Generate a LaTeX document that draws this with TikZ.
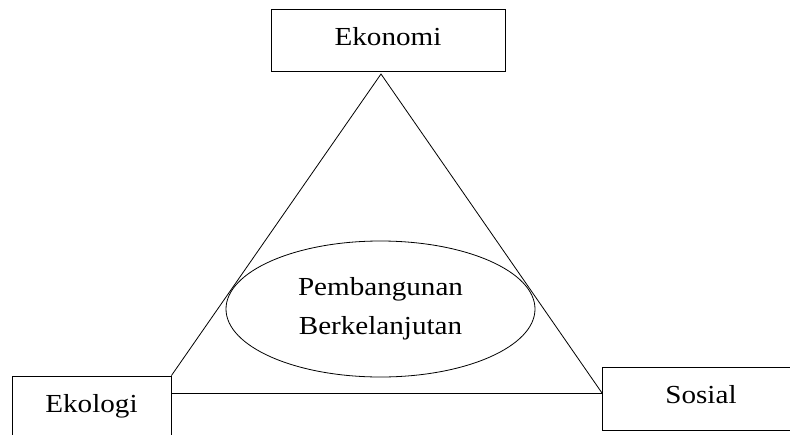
\documentclass[tikz,border=0pt]{standalone}
\usepackage{fontspec}
\setmainfont{Liberation Serif}[FakeStretch=1.12]
\usetikzlibrary{shapes.geometric}
\begin{document}
\begin{tikzpicture}[x=1pt,y=-1pt,
  box/.style={draw=black,line width=0.8pt,rectangle,inner sep=0pt,
    font=\fontsize{26}{30}\selectfont,text height=18pt},
  oval/.style={draw=black,line width=0.8pt,ellipse,inner sep=0pt,
    minimum width=309pt,minimum height=136pt,align=center,
    font=\fontsize{26}{39}\selectfont},
  edge/.style={draw=black,line width=0.8pt}]
\useasboundingbox (0,0) rectangle (790,434);
\clip (0,0) rectangle (790,434);
\node[box,minimum width=234pt,minimum height=62pt,text depth=8pt] (ekonomi) at (388,40) {Ekonomi};
\node[box,minimum width=159pt,minimum height=60pt,text depth=6pt] (ekologi) at (91.5,406) {Ekologi};
\node[box,minimum width=198pt,minimum height=63pt,text depth=9pt] (sosial) at (701,398.5) {Sosial};
\coordinate (apex) at (381,74);
\coordinate (rend) at (602,393);
\coordinate (lbase) at (171,393);
\draw[edge] (ekologi.north east) -- (apex) -- (rend);
\draw[edge] (lbase) -- (rend);
\node[oval] (pb) at (380.5,309) {Pembangunan\\Berkelanjutan};
\end{tikzpicture}
\end{document}
